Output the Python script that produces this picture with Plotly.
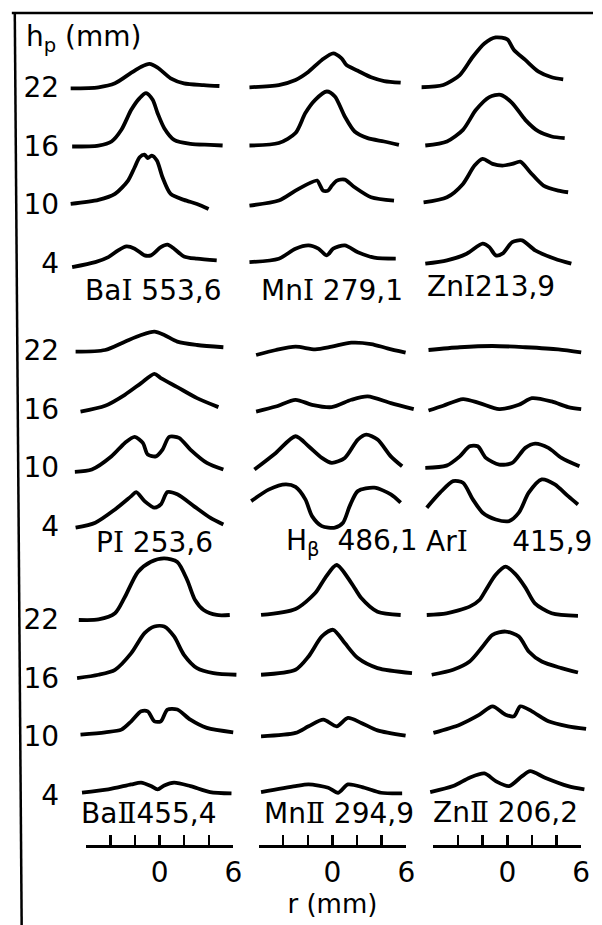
import plotly.graph_objects as go

# ---------------- data: radial emission profiles (r in mm, relative intensity above baseline) -------------
H_P = [22, 16, 10, 4]
R_MINOR_START, R_MINOR_STEP = -6, 2
R_RANGE = [-6, 6]
R_TICKS = [0, 6]
R_TICK_TEXT = ["0", "6"]

BAI_22 = [(-7.22, -0.14), (-4.96, -0.03), (-3.62, 0.38), (-2.29, 1.46), (-1.49, 2.07), (-0.82, 2.35), (-0.16, 1.97), (0.9, 0.89), (1.98, 0.38), (3.58, 0.2), (4.86, 0.1)]
BAI_16 = [(-7.1, -0.07), (-4.96, 0.03), (-3.9, 0.44), (-3.1, 1.63), (-2.3, 3.67), (-1.62, 4.87), (-1.1, 5.38), (-0.56, 4.69), (-0.16, 3.33), (0.38, 1.8), (1.18, 0.61), (2.5, 0.2), (4.1, 0.1), (5.12, 0.03)]
BAI_10 = [(-7.22, 0.07), (-4.96, 0.48), (-3.62, 1.09), (-2.56, 2.45), (-2.02, 3.81), (-1.62, 4.83), (-1.22, 5.1), (-0.96, 4.75), (-0.64, 5.0), (-0.22, 4.49), (0.24, 2.79), (0.9, 1.09), (1.98, 0.48), (3.04, 0.07), (3.98, -0.44)]
BAI_4 = [(-7.1, -0.38), (-5.22, 0.13), (-4.16, 0.64), (-3.36, 1.33), (-2.69, 1.73), (-2.02, 1.5), (-1.22, 0.82), (-0.7, 0.82), (0.1, 1.66), (0.64, 1.91), (1.18, 1.5), (1.98, 0.71), (3.04, 0.48), (4.64, 0.31)]

MNI_22 = [(-6.74, -0.03), (-4.36, 0.2), (-3.0, 0.71), (-1.94, 1.56), (-0.86, 2.76), (0.06, 3.44), (0.74, 2.93), (1.14, 2.24), (2.06, 1.66), (3.14, 0.99), (4.2, 0.61), (5.54, 0.44)]
MNI_16 = [(-6.74, 0.03), (-4.36, 0.28), (-3.0, 1.3), (-2.2, 3.34), (-1.4, 4.69), (-0.46, 5.54), (0.2, 5.03), (1.0, 2.99), (1.8, 1.46), (2.86, 0.78), (4.2, 0.44), (5.4, 0.1)]
MNI_10 = [(-6.74, -0.1), (-4.36, 0.41), (-3.0, 1.43), (-1.94, 2.14), (-1.24, 2.45), (-1.0, 1.94), (-0.76, 1.43), (-0.36, 1.43), (-0.04, 1.94), (0.36, 2.45), (1.0, 2.55), (1.8, 1.77), (3.14, 0.75), (5.0, 0.41)]
MNI_4 = [(-6.74, 0.13), (-4.36, 0.48), (-3.0, 1.5), (-1.94, 1.84), (-1.14, 1.5), (-0.46, 0.82), (0.06, 1.5), (1.0, 1.84), (2.06, 1.15), (3.4, 0.58), (5.14, 0.48)]

ZNI_22 = [(-7.06, -0.03), (-5.2, 0.2), (-3.86, 1.22), (-2.8, 3.09), (-1.86, 4.45), (-0.94, 5.06), (0.0, 4.86), (0.54, 3.78), (1.46, 2.76), (2.54, 1.56), (3.6, 0.99), (4.54, 0.78)]
ZNI_16 = [(-6.66, 0.03), (-4.9, 0.44), (-3.6, 1.63), (-2.54, 3.67), (-1.46, 4.97), (-0.54, 5.2), (0.4, 4.36), (1.46, 2.65), (2.54, 1.46), (3.6, 0.95), (4.66, 0.78)]
ZNI_10 = [(-6.8, 0.23), (-4.9, 0.75), (-3.6, 2.11), (-2.66, 3.98), (-2.0, 4.66), (-1.2, 4.15), (-0.4, 3.98), (0.4, 4.15), (1.06, 4.39), (1.86, 3.3), (2.94, 1.94), (4.14, 1.43), (4.94, 1.26)]
ZNI_4 = [(-6.66, -0.03), (-4.9, 0.31), (-3.3, 0.99), (-2.0, 2.01), (-1.46, 1.66), (-0.94, 0.82), (-0.4, 0.99), (0.4, 2.17), (1.2, 2.35), (2.26, 1.33), (3.86, 0.48), (5.2, -0.03)]

PI_22 = [(-6.82, -0.17), (-4.42, 0.0), (-2.82, 0.85), (-1.5, 1.53), (-0.42, 1.87), (0.38, 1.53), (1.44, 0.85), (3.04, 0.51), (5.18, 0.28)]
PI_16 = [(-6.42, -0.28), (-4.42, 0.31), (-2.82, 1.43), (-1.5, 2.62), (-0.42, 3.57), (0.1, 3.13), (1.44, 2.21), (3.04, 1.09), (4.78, 0.17)]
PI_10 = [(-6.88, -0.44), (-5.5, -0.2), (-3.9, 1.15), (-2.82, 2.52), (-2.02, 3.13), (-1.36, 2.52), (-0.96, 1.33), (-0.3, 1.15), (0.24, 1.84), (0.78, 3.13), (1.58, 3.03), (2.5, 1.84), (3.84, 0.48), (5.18, -0.2)]
PI_4 = [(-6.82, -0.13), (-5.22, 0.38), (-3.62, 1.73), (-2.3, 3.09), (-1.9, 3.5), (-1.22, 2.58), (-0.42, 1.91), (0.1, 2.24), (0.64, 3.5), (1.44, 3.27), (2.78, 2.07), (4.1, 0.89), (5.18, 0.2)]

HB_22 = [(-6.2, -0.51), (-4.6, 0.0), (-3.0, 0.34), (-1.4, 0.07), (-0.06, 0.34), (1.54, 0.75), (3.14, 0.61), (4.46, 0.17), (5.94, -0.27)]
HB_16 = [(-6.2, -0.28), (-4.6, 0.23), (-3.0, 0.92), (-1.66, 0.41), (-0.06, 0.17), (1.54, 0.92), (2.86, 1.26), (4.74, 0.58), (6.6, -0.03)]
HB_10 = [(-6.34, -0.2), (-4.6, 1.5), (-3.0, 3.2), (-1.94, 2.18), (-0.86, 0.99), (-0.06, 0.48), (1.0, 0.99), (2.06, 2.86), (2.74, 3.37), (3.66, 2.86), (4.74, 1.15), (5.66, 0.13)]
HB_4 = [(-6.6, 2.58), (-5.14, 3.78), (-3.8, 4.29), (-3.0, 4.03), (-2.2, 2.76), (-1.66, 1.05), (-0.86, 0.03), (0.2, -0.13), (0.86, 0.38), (1.4, 2.07), (2.06, 3.6), (3.4, 3.95), (4.74, 3.27), (5.54, 2.42)]

ARI_22 = [(-6.4, 0.0), (-3.86, 0.28), (-1.2, 0.41), (1.46, 0.28), (4.14, 0.07), (6.0, -0.24)]
ARI_16 = [(-6.4, -0.17), (-5.2, 0.31), (-3.6, 0.99), (-2.26, 0.58), (-0.66, -0.03), (0.94, 0.41), (2.0, 1.09), (3.6, 0.75), (4.94, 0.17), (6.0, -0.03)]
ARI_10 = [(-6.66, -0.03), (-4.94, 0.2), (-3.86, 1.15), (-3.06, 2.18), (-2.4, 2.18), (-1.74, 0.99), (-0.66, 0.31), (0.4, 0.48), (1.46, 2.01), (2.26, 2.45), (3.34, 2.01), (4.4, 0.99), (5.86, 0.13)]
ARI_4 = [(-6.54, 1.91), (-5.46, 3.44), (-4.4, 4.62), (-3.6, 4.45), (-2.8, 2.76), (-2.0, 1.4), (-0.94, 0.71), (0.14, 0.54), (0.94, 1.4), (1.74, 3.44), (2.8, 4.8), (3.86, 4.29), (4.94, 3.09), (5.74, 2.24)]

BAII_22 = [(-6.56, -0.1), (-4.96, -0.05), (-3.62, 0.58), (-2.82, 2.24), (-1.76, 4.8), (-0.7, 5.85), (0.38, 6.19), (1.44, 5.82), (2.24, 3.98), (2.88, 1.94), (3.58, 0.92), (4.64, 0.41), (5.7, 0.41)]
BAII_16 = [(-6.7, -0.03), (-4.96, 0.31), (-3.62, 0.82), (-2.3, 2.52), (-1.22, 4.56), (-0.42, 5.24), (0.38, 5.24), (1.18, 4.22), (1.98, 2.35), (3.04, 0.99), (4.38, 0.48), (6.24, 0.31)]
BAII_10 = [(-6.42, 0.2), (-4.42, 0.44), (-3.1, 0.71), (-2.3, 1.56), (-1.5, 2.58), (-0.96, 2.58), (-0.42, 1.56), (0.1, 1.56), (0.64, 2.76), (1.44, 2.76), (2.5, 1.73), (3.84, 0.89), (5.98, 0.44)]
BAII_4 = [(-6.3, 0.28), (-4.16, 0.61), (-2.3, 1.12), (-1.5, 1.3), (-0.7, 0.95), (-0.16, 0.61), (0.38, 1.02), (1.18, 1.3), (2.5, 0.95), (4.1, 0.34), (5.84, 0.2)]

MNII_22 = [(-5.8, 0.41), (-3.0, 1.02), (-1.4, 2.65), (-0.6, 4.18), (0.34, 5.51), (1.54, 3.67), (2.34, 2.14), (3.66, 0.74), (5.54, 0.41)]
MNII_16 = [(-5.8, 0.31), (-3.0, 0.82), (-1.94, 2.18), (-0.86, 4.22), (0.06, 4.9), (1.0, 3.54), (2.06, 2.01), (3.66, 0.99), (6.46, 0.48)]
MNII_10 = [(-5.8, 0.03), (-3.0, 0.38), (-1.94, 1.05), (-0.74, 1.73), (0.34, 1.05), (1.26, 1.91), (2.34, 1.4), (3.66, 0.64), (5.94, 0.1)]
MNII_4 = [(-5.8, 0.34), (-3.0, 0.95), (-1.94, 1.12), (-0.34, 0.78), (0.46, 0.27), (1.26, 1.12), (2.6, 0.78), (3.94, 0.27), (5.66, 0.2)]

ZNII_22 = [(-6.54, 0.41), (-4.94, 0.58), (-3.06, 1.26), (-2.26, 1.94), (-1.74, 2.96), (-0.96, 4.49), (-0.14, 5.34), (0.64, 4.6), (1.46, 3.23), (2.24, 1.6), (3.6, 0.58), (5.74, 0.31)]
ZNII_16 = [(-6.14, 0.31), (-4.4, 0.82), (-3.06, 1.66), (-2.0, 3.19), (-1.2, 4.39), (-0.14, 4.72), (0.94, 4.22), (1.74, 2.69), (2.8, 1.66), (4.4, 0.99), (5.74, 0.54)]
ZNII_10 = [(-6.0, 0.38), (-3.86, 1.22), (-2.26, 2.24), (-1.2, 3.09), (-0.14, 2.24), (0.54, 2.07), (1.06, 3.09), (2.0, 2.58), (3.34, 1.56), (4.94, 1.05), (6.4, 0.78)]
ZNII_4 = [(-6.26, 0.34), (-4.4, 0.95), (-3.06, 1.81), (-1.86, 2.24), (-0.94, 1.46), (0.14, 0.95), (1.2, 1.97), (1.86, 2.48), (3.06, 1.81), (4.94, 0.95), (6.26, 0.61)]

ROMAN_1 = "<span style='font-family:DejaVu Serif'>Ⅰ</span>"
ROMAN_2 = "<span style='font-family:DejaVu Serif'>Ⅱ</span>"
NB = "\u00a0"
LINE_LABELS = [
    ["Ba" + ROMAN_1 + NB + "553,6", "Mn" + ROMAN_1 + NB + "279,1", "Zn" + ROMAN_1 + "213,9"],
    ["P" + ROMAN_1 + NB + "253,6", "H<sub>β</sub>" + NB * 2 + "486,1", "Ar" + ROMAN_1 + NB * 5 + "415,9"],
    ["Ba" + ROMAN_2 + "455,4", "Mn" + ROMAN_2 + NB + "294,9", "Zn" + ROMAN_2 + NB + "206,2"],
]
PROFILES = [
    [[BAI_22, BAI_16, BAI_10, BAI_4], [MNI_22, MNI_16, MNI_10, MNI_4], [ZNI_22, ZNI_16, ZNI_10, ZNI_4]],
    [[PI_22, PI_16, PI_10, PI_4], [HB_22, HB_16, HB_10, HB_4], [ARI_22, ARI_16, ARI_10, ARI_4]],
    [[BAII_22, BAII_16, BAII_10, BAII_4], [MNII_22, MNII_16, MNII_10, MNII_4], [ZNII_22, ZNII_16, ZNII_10, ZNII_4]],
]

# ---------------- layout geometry (pixels) ----------------
W, H = 602, 925
PX_MM = 12.5
PX_UNIT = 9.8
COL_ZERO = [162, 337.5, 515]
COL_SPAN = [(62, 246), (248, 428), (428, 602)]
GRP_BASE = [87, 350, 619]
GRP_SPAN = [(15, 298), (300, 548), (548, 832)]
LABEL_POS = [[(84, 290), (263, 290), (431, 287)],
             [(95, 542), (288, 542), (430, 541)],
             [(80, 813), (266, 813), (438, 812)]]
SCALE_Y = 845
FONT = "DejaVu Sans"
FS = 28


def ax_name(kind, i):
    return kind if i == 1 else f"{kind}{i}"


fig = go.Figure()
layout = dict(width=W, height=H, autosize=False, margin=dict(l=0, r=0, t=0, b=0),
              paper_bgcolor="white", plot_bgcolor="rgba(0,0,0,0)", showlegend=False,
              font=dict(family=FONT, color="black"))

for c in range(3):
    L, R = COL_SPAN[c]
    z = COL_ZERO[c]
    layout[ax_name("xaxis", c + 1)] = dict(domain=[L / W, R / W], range=[(L - z) / PX_MM, (R - z) / PX_MM],
                                            visible=False, anchor="y", fixedrange=True)
for g in range(3):
    T, B = GRP_SPAN[g]
    b = GRP_BASE[g]
    layout[ax_name("yaxis", g + 1)] = dict(
        domain=[1 - B / H, 1 - T / H], range=[22 - (B - b) / PX_UNIT, 22 + (b - T) / PX_UNIT],
        anchor="x", showgrid=False, zeroline=False, showline=False, ticks="",
        tickvals=H_P, ticktext=[str(h) for h in H_P], tickfont=dict(size=FS, family=FONT, color="black"),
        ticklabelstandoff=1, fixedrange=True)

for g in range(3):
    for c in range(3):
        for h, prof in zip(H_P, PROFILES[g][c]):
            fig.add_trace(go.Scatter(
                x=[p[0] for p in prof], y=[h + p[1] for p in prof],
                xaxis=ax_name("x", c + 1), yaxis=ax_name("y", g + 1), mode="lines",
                line=dict(color="black", width=3.8, shape="spline", smoothing=0.75),
                hoverinfo="skip"))

# scale bars (r axis, -6..6 mm) under each column
for c in range(3):
    i = c + 4
    z = COL_ZERO[c]
    xa = dict(domain=[(z + R_RANGE[0] * PX_MM) / W, (z + R_RANGE[1] * PX_MM) / W], range=R_RANGE,
              anchor=ax_name("y", i), showline=True, linecolor="black", linewidth=2.5,
              ticks="inside", ticklen=10, tickwidth=2.5, tickcolor="black",
              tickvals=R_TICKS, ticktext=R_TICK_TEXT, tickfont=dict(size=FS, family=FONT, color="black"),
              minor=dict(ticks="inside", ticklen=10, tickwidth=2.5, tickcolor="black",
                         tickmode="linear", tick0=R_MINOR_START, dtick=R_MINOR_STEP, showgrid=False),
              ticklabelstandoff=1, showgrid=False, zeroline=False, fixedrange=True)
    if c == 1:
        xa["title"] = dict(text="r (mm)", font=dict(size=FS - 2, family=FONT, color="black"), standoff=0)
    layout[ax_name("xaxis", i)] = xa
    layout[ax_name("yaxis", i)] = dict(domain=[1 - SCALE_Y / H, 1 - (SCALE_Y - 12) / H],
                                        anchor=ax_name("x", i), visible=False, range=[0, 1], fixedrange=True)
    fig.add_trace(go.Scatter(x=R_RANGE, y=[0.5, 0.5], xaxis=ax_name("x", i),
                             yaxis=ax_name("y", i), mode="lines", opacity=0, hoverinfo="skip"))

annotations = []
for g in range(3):
    for c in range(3):
        px, py = LABEL_POS[g][c]
        annotations.append(dict(text=LINE_LABELS[g][c], x=px / W, y=1 - py / H, xref="paper", yref="paper",
                                xanchor="left", yanchor="middle", showarrow=False,
                                font=dict(size=FS, family=FONT, color="black")))
annotations.append(dict(text="h<sub>p</sub> (mm)", x=24 / W, y=1 - 38 / H, xref="paper", yref="paper",
                        xanchor="left", yanchor="middle", showarrow=False,
                        font=dict(size=FS, family=FONT, color="black")))
layout["annotations"] = annotations

layout["shapes"] = [
    dict(type="line", xref="paper", yref="paper", x0=12 / W, y0=1 - 13 / H, x1=1, y1=1 - 13 / H,
         line=dict(color="black", width=2.5)),
    dict(type="line", xref="paper", yref="paper", x0=15 / W, y0=1 - 12 / H, x1=22 / W, y1=0,
         line=dict(color="black", width=2.5)),
]

fig.update_layout(**layout)
fig.write_html("out.html", config={"displayModeBar": False, "staticPlot": True},
               post_script="document.body.style.margin='0px';document.body.style.overflow='hidden';")
